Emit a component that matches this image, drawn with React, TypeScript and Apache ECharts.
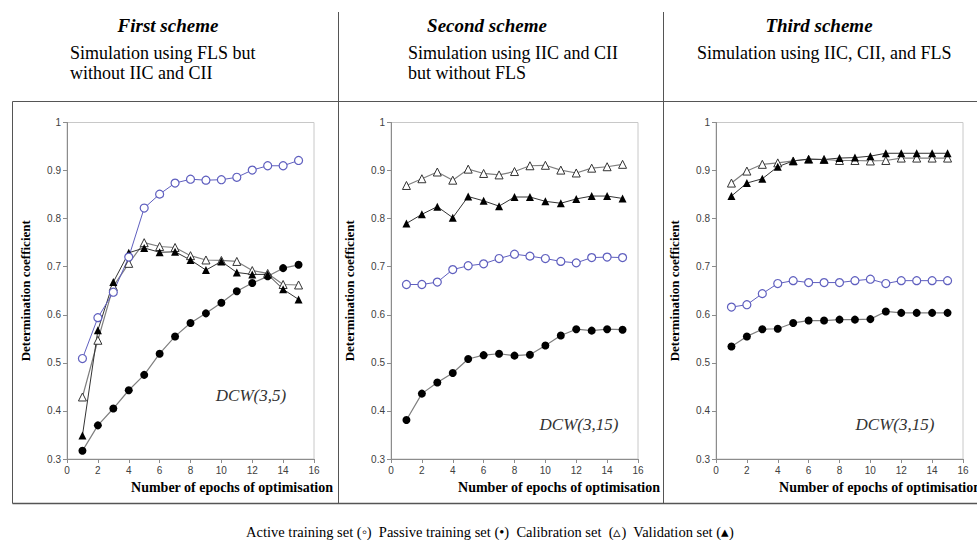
import React, { useEffect, useRef } from "react";
import * as echarts from "echarts";

const epochs = [1, 2, 3, 4, 5, 6, 7, 8, 9, 10, 11, 12, 13, 14, 15];

const p1Active = [0.509, 0.594, 0.647, 0.72, 0.822, 0.851, 0.874, 0.882, 0.88, 0.881, 0.886, 0.901, 0.91, 0.91, 0.921];
const p1Passive = [0.317, 0.37, 0.405, 0.443, 0.475, 0.519, 0.555, 0.583, 0.603, 0.625, 0.649, 0.666, 0.68, 0.697, 0.704];
const p1Calib = [0.429, 0.547, 0.659, 0.707, 0.75, 0.742, 0.74, 0.723, 0.714, 0.713, 0.711, 0.692, 0.686, 0.663, 0.662];
const p1Valid = [0.349, 0.568, 0.668, 0.729, 0.739, 0.73, 0.731, 0.714, 0.693, 0.711, 0.688, 0.684, 0.684, 0.653, 0.632];

const p2Active = [0.663, 0.663, 0.668, 0.694, 0.702, 0.706, 0.717, 0.726, 0.722, 0.717, 0.711, 0.708, 0.719, 0.72, 0.719];
const p2Passive = [0.381, 0.436, 0.459, 0.479, 0.508, 0.516, 0.519, 0.515, 0.517, 0.536, 0.557, 0.57, 0.567, 0.57, 0.569];
const p2Calib = [0.869, 0.883, 0.897, 0.88, 0.903, 0.894, 0.891, 0.898, 0.91, 0.911, 0.901, 0.895, 0.905, 0.908, 0.913];
const p2Valid = [0.79, 0.809, 0.825, 0.802, 0.846, 0.837, 0.826, 0.845, 0.845, 0.836, 0.832, 0.841, 0.847, 0.847, 0.842];

const p3Active = [0.616, 0.621, 0.644, 0.665, 0.671, 0.667, 0.667, 0.667, 0.671, 0.674, 0.665, 0.671, 0.671, 0.671, 0.671];
const p3Passive = [0.534, 0.555, 0.57, 0.571, 0.583, 0.588, 0.588, 0.59, 0.59, 0.591, 0.607, 0.604, 0.604, 0.604, 0.604];
const p3Calib = [0.874, 0.899, 0.913, 0.916, 0.92, 0.9235, 0.923, 0.921, 0.921, 0.92, 0.921, 0.926, 0.926, 0.926, 0.926];
const p3Valid = [0.847, 0.874, 0.883, 0.908, 0.92, 0.924, 0.923, 0.926, 0.927, 0.93, 0.936, 0.936, 0.936, 0.936, 0.936];

const schemeTitles = ["First scheme", "Second scheme", "Third scheme"];
const schemeSubtitles = [
  "Simulation using FLS but\nwithout IIC and CII",
  "Simulation using IIC and CII\nbut without FLS",
  "Simulation using IIC, CII, and FLS",
];
const dcwLabels = ["DCW(3,5)", "DCW(3,15)", "DCW(3,15)"];
const yAxisName = "Determination coefficient";
const xAxisName = "Number of epochs of optimisation";
const legendText =
  "Active training set (\u25e6)  Passive training set (\u2022)  Calibration set  (\u25b5)  Validation set (\u25b4)";

const panels = [
  { active: p1Active, passive: p1Passive, calib: p1Calib, valid: p1Valid },
  { active: p2Active, passive: p2Passive, calib: p2Calib, valid: p2Valid },
  { active: p3Active, passive: p3Passive, calib: p3Calib, valid: p3Valid },
];

const gridLefts = [67, 391, 716];
const gridWidth = 247;
const gridTop = 122.5;
const gridHeight = 336.5;
const titleCenters = [168, 487, 819];
const subLefts = [70, 408, 697];
const dcwPos = [
  [251, 395],
  [579, 424],
  [895, 424],
];
const xNameRights = [333, 660, 981];

const BLUE = "#5f5fbf";
const SERIF = "'Liberation Serif', 'Times New Roman', serif";

export default function App() {
  const ref = useRef<HTMLDivElement>(null);
  useEffect(() => {
    document.body.style.margin = "0";
    const chart = echarts.init(ref.current!, undefined, { renderer: "svg" });
    const pair = (arr: number[]) => epochs.map((e, i) => [e, arr[i]]);

    const grids: any[] = [];
    const xAxes: any[] = [];
    const yAxes: any[] = [];
    const series: any[] = [];
    panels.forEach((p, k) => {
      grids.push({
        left: gridLefts[k],
        top: gridTop,
        width: gridWidth,
        height: gridHeight,
        show: true,
        borderColor: "#c8c8c8",
        borderWidth: 1,
        backgroundColor: "transparent",
      });
      xAxes.push({
        type: "value",
        gridIndex: k,
        min: 0,
        max: 16,
        interval: 2,
        axisLine: { show: true, onZero: false, lineStyle: { color: "#8c8c8c" } },
        axisTick: { show: true, length: 4, inside: false, lineStyle: { color: "#8c8c8c" } },
        splitLine: { show: false },
        axisLabel: { fontSize: 10, color: "#404040", fontFamily: "'Liberation Sans', Arial", margin: 6 },
      });
      yAxes.push({
        type: "value",
        gridIndex: k,
        min: 0.3,
        max: 1,
        interval: 0.1,
        axisLine: { show: true, onZero: false, lineStyle: { color: "#8c8c8c" } },
        axisTick: { show: true, length: 4, inside: false, lineStyle: { color: "#8c8c8c" } },
        splitLine: { show: false },
        axisLabel: {
          fontSize: 10,
          color: "#404040",
          fontFamily: "'Liberation Sans', Arial",
          margin: 6,
          formatter: (v: number) => String(Math.round(v * 10) / 10),
        },
        name: yAxisName,
        nameLocation: "middle",
        nameRotate: 90,
        nameGap: 35,
        nameTextStyle: { fontFamily: SERIF, fontWeight: "bold", fontSize: 13, color: "#000" },
      });
      series.push(
        {
          name: "Passive training set",
          type: "line",
          xAxisIndex: k,
          yAxisIndex: k,
          data: pair(p.passive),
          symbol: "circle",
          symbolSize: 8,
          lineStyle: { color: "#7f7f7f", width: 1.2 },
          itemStyle: { color: "#000", borderColor: "#000", borderWidth: 0 },
        },
        {
          name: "Calibration set",
          type: "line",
          xAxisIndex: k,
          yAxisIndex: k,
          data: pair(p.calib),
          symbol: "triangle",
          symbolSize: 8,
          lineStyle: { color: "#7f7f7f", width: 1.2 },
          itemStyle: { color: "#fff", borderColor: "#333", borderWidth: 1 },
        },
        {
          name: "Validation set",
          type: "line",
          xAxisIndex: k,
          yAxisIndex: k,
          data: pair(p.valid),
          symbol: "triangle",
          symbolSize: 8,
          lineStyle: { color: "#333", width: 1 },
          itemStyle: { color: "#000", borderColor: "#000", borderWidth: 0 },
        },
        {
          name: "Active training set",
          type: "line",
          xAxisIndex: k,
          yAxisIndex: k,
          data: pair(p.active),
          symbol: "circle",
          symbolSize: 8,
          lineStyle: { color: BLUE, width: 1 },
          itemStyle: { color: "#fff", borderColor: BLUE, borderWidth: 1.2 },
        }
      );
    });

    const lineStyle = { stroke: "#555", lineWidth: 1 };
    const graphics: any[] = [
      { type: "line", shape: { x1: 12.5, y1: 101.5, x2: 977, y2: 101.5 }, style: lineStyle },
      { type: "line", shape: { x1: 12.5, y1: 101.5, x2: 12.5, y2: 503.5 }, style: lineStyle },
      { type: "line", shape: { x1: 12.5, y1: 503.5, x2: 977, y2: 503.5 }, style: { stroke: "#555", lineWidth: 1.5 } },
      { type: "line", shape: { x1: 338.5, y1: 12, x2: 338.5, y2: 503.5 }, style: lineStyle },
      { type: "line", shape: { x1: 663.5, y1: 12, x2: 663.5, y2: 503.5 }, style: lineStyle },
    ];
    [0, 1, 2].forEach((k) => {
      graphics.push(
        {
          type: "text",
          x: titleCenters[k],
          y: 25,
          style: {
            text: schemeTitles[k],
            font: `italic bold 19px ${SERIF}`,
            fill: "#000",
            align: "center",
            verticalAlign: "middle",
          },
        },
        {
          type: "text",
          x: subLefts[k],
          y: 43,
          style: {
            text: schemeSubtitles[k],
            font: `18px ${SERIF}`,
            lineHeight: 20,
            fill: "#000",
            align: "left",
            verticalAlign: "top",
          },
        },
        {
          type: "text",
          x: dcwPos[k][0],
          y: dcwPos[k][1],
          style: {
            text: dcwLabels[k],
            font: `italic 17px ${SERIF}`,
            fill: "#333",
            align: "center",
            verticalAlign: "middle",
          },
        },
        {
          type: "text",
          x: xNameRights[k],
          y: 487,
          style: {
            text: xAxisName,
            font: `bold 14px ${SERIF}`,
            fill: "#000",
            align: "right",
            verticalAlign: "middle",
          },
        }
      );
    });
    graphics.push({
      type: "text",
      x: 490,
      y: 532,
      style: {
        text: legendText,
        font: `14.5px ${SERIF}`,
        fill: "#000",
        align: "center",
        verticalAlign: "middle",
      },
    });

    chart.setOption({
      animation: false,
      backgroundColor: "#fff",
      grid: grids,
      xAxis: xAxes,
      yAxis: yAxes,
      series,
      graphic: graphics,
    });
    return () => chart.dispose();
  }, []);
  return <div ref={ref} style={{ width: 977, height: 540 }} />;
}
